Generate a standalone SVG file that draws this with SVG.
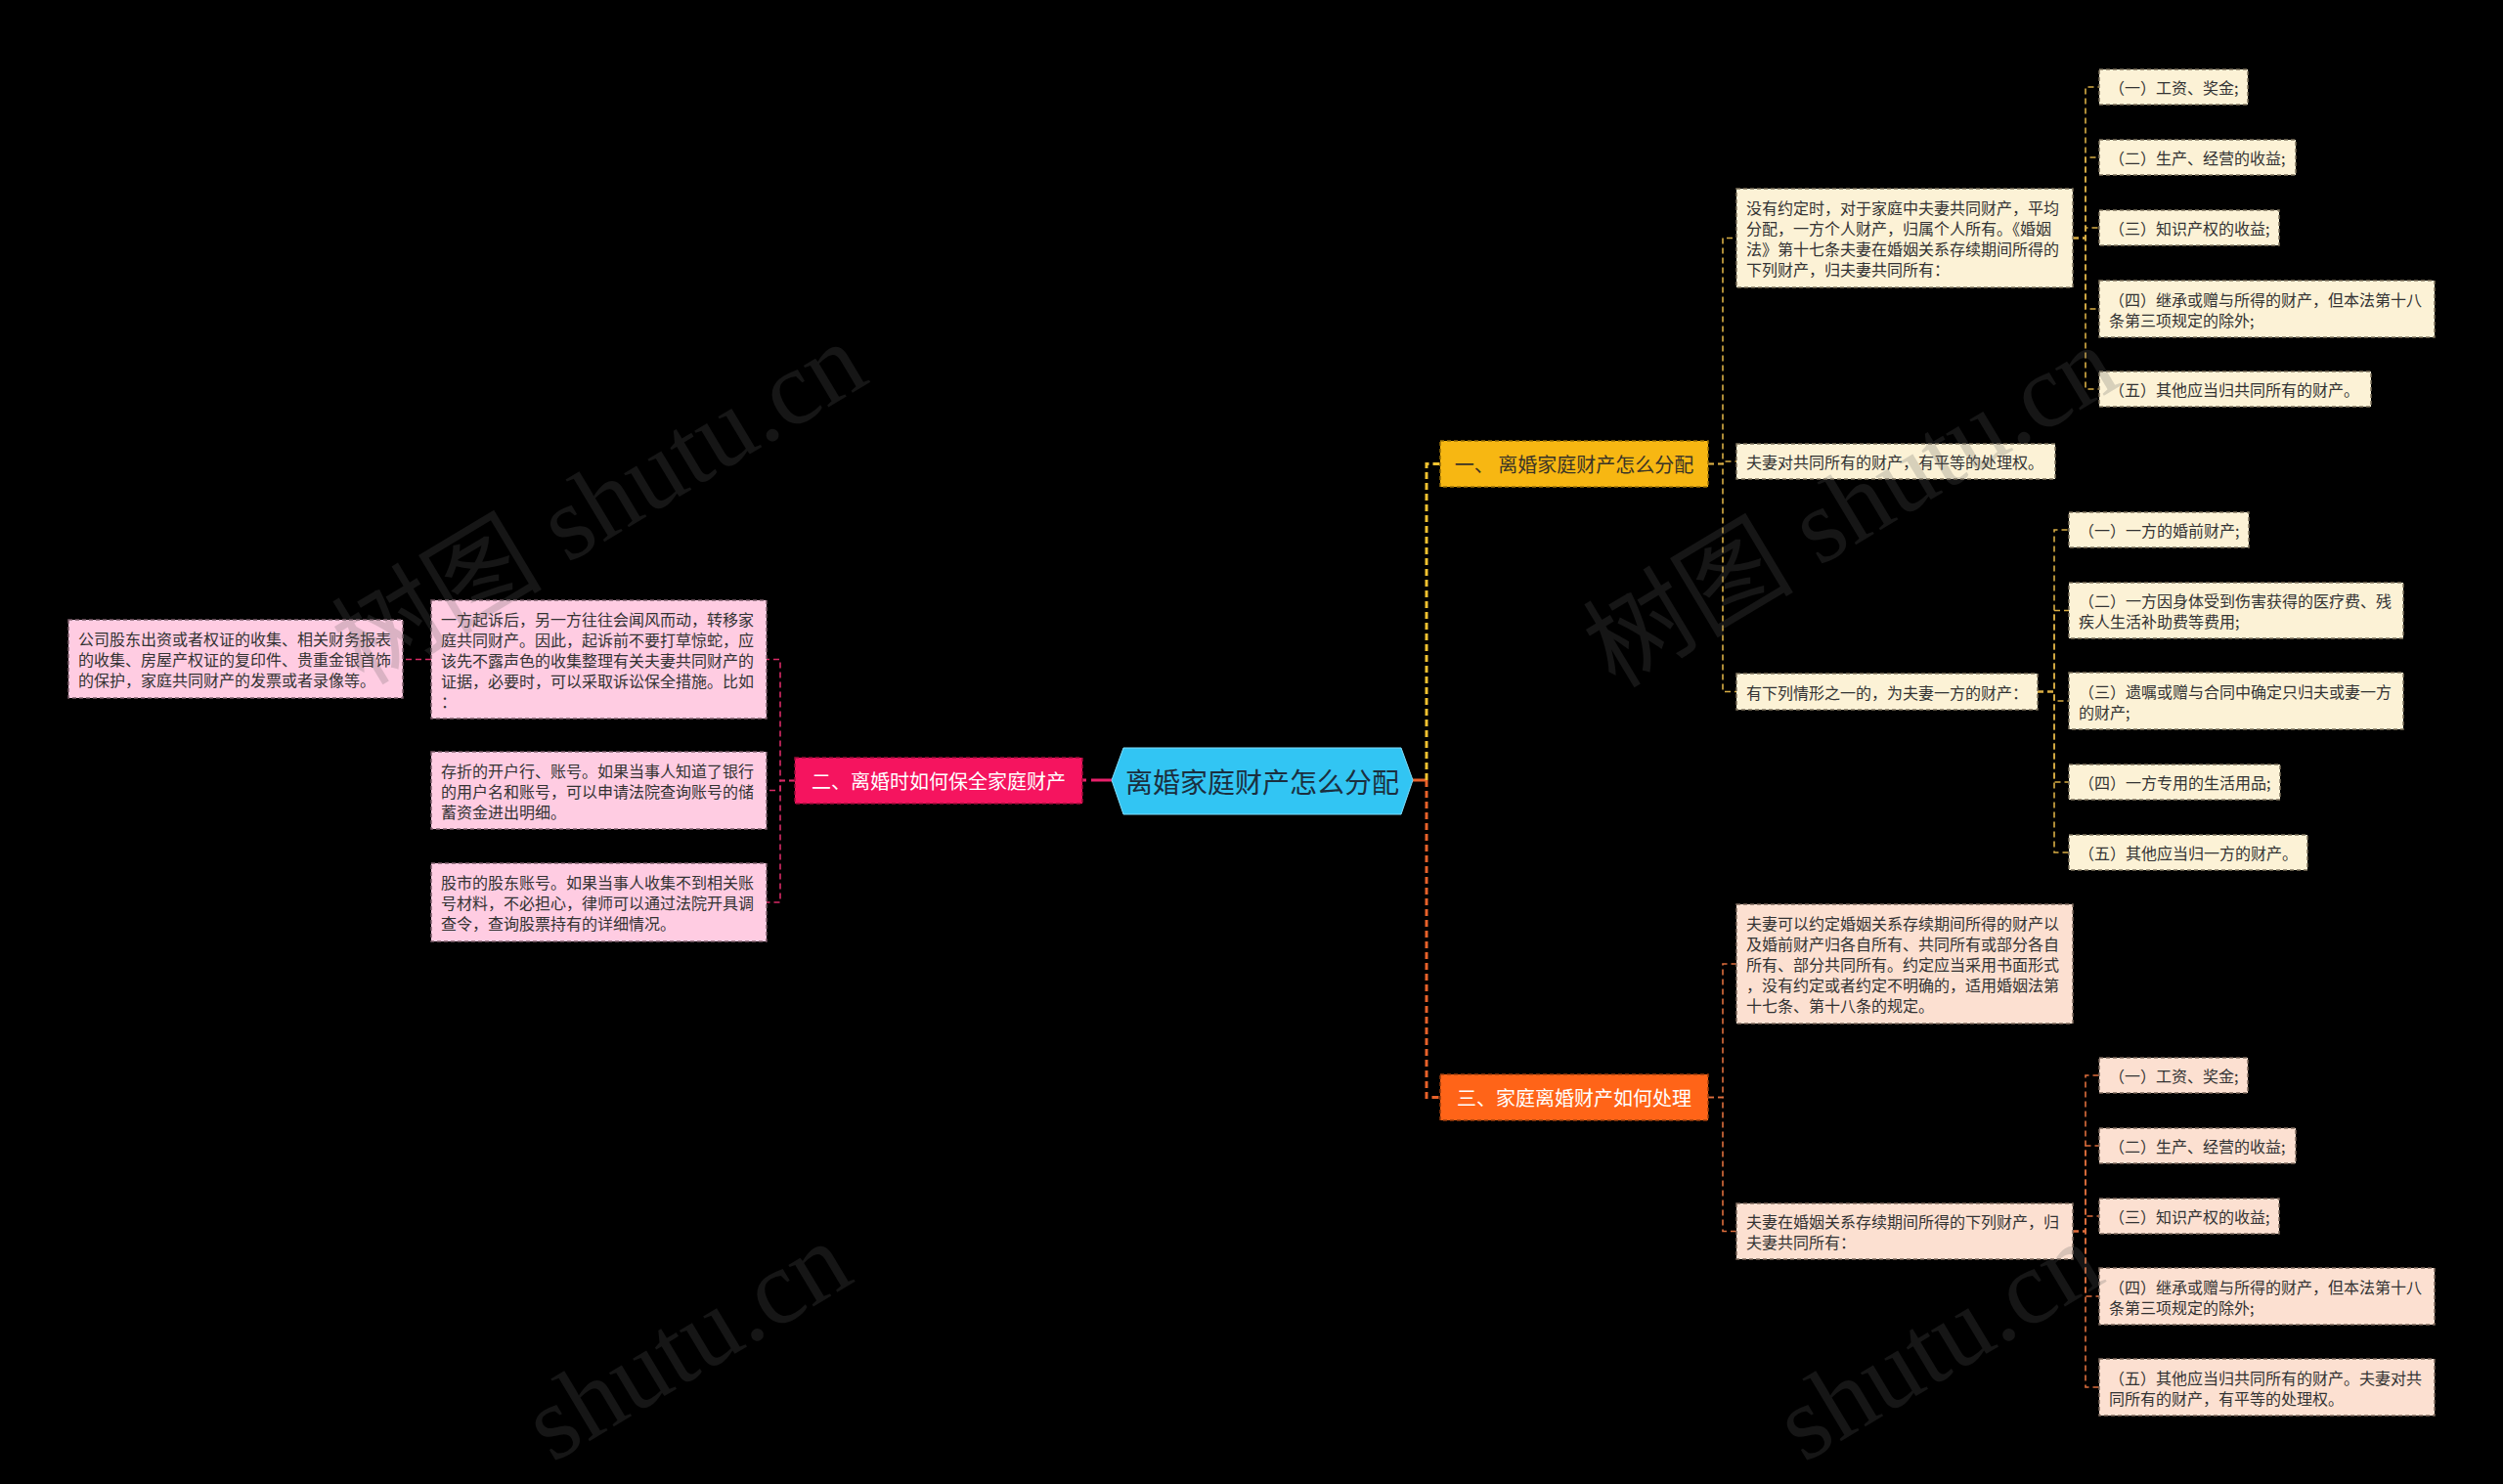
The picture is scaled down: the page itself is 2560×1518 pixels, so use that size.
<svg xmlns="http://www.w3.org/2000/svg" width="2560" height="1518" viewBox="0 0 2560 1518">
<style>
.bg{fill:#000}
.t{font-family:"Noto Sans CJK SC","Noto Sans",sans-serif;font-size:16px;fill:#333;dominant-baseline:central}
.l1{font-family:"Noto Sans CJK SC","Noto Sans",sans-serif;font-size:20px;dominant-baseline:central;text-anchor:middle}
.cream{fill:#FCF2D6;stroke:#7d735d;stroke-width:1.5;stroke-dasharray:4 3}
.peach{fill:#FCE0D1;stroke:#7d6a5d;stroke-width:1.5;stroke-dasharray:4 3}
.pink{fill:#FFCCE2;stroke:#7d5f6c;stroke-width:1.5;stroke-dasharray:4 3}
.gold{fill:none;stroke:#D9AE45;stroke-width:1.6;stroke-dasharray:6 4}
.orng{fill:none;stroke:#DE6E3C;stroke-width:1.6;stroke-dasharray:6 4}
.pnk{fill:none;stroke:#D82A66;stroke-width:1.6;stroke-dasharray:6 4}
.wm{font-family:"Liberation Serif","Noto Sans CJK SC",serif;font-size:108px;fill:#606060;fill-opacity:0.23}
</style>
<rect class="bg" x="0" y="0" width="2560" height="1518"/>

<g id="connectors">
  <path d="M1445,798 H1459" fill="none" stroke="#E8622A" stroke-width="3"/>
  <path d="M1459,798 V474.5 H1473" fill="none" stroke="#F2C230" stroke-width="3" stroke-dasharray="7 4"/>
  <path d="M1459,798 V1122.5 H1473" fill="none" stroke="#E8622A" stroke-width="3" stroke-dasharray="7 4"/>
  <path d="M1137,798 H1107" fill="none" stroke="#E8206A" stroke-width="3" stroke-dasharray="21 5 4 10"/>
  <path class="gold" d="M1747,474.5 H1762 V243.5 H1776"/>
  <path class="gold" d="M1747,474.5 H1762 V472 H1776"/>
  <path class="gold" d="M1747,474.5 H1762 V707.5 H1776"/>
  <path class="gold" d="M2120,243.5 H2133 V89 H2147"/>
  <path class="gold" d="M2120,243.5 H2133 V161 H2147"/>
  <path class="gold" d="M2120,243.5 H2133 V233 H2147"/>
  <path class="gold" d="M2120,243.5 H2133 V316 H2147"/>
  <path class="gold" d="M2120,243.5 H2133 V398 H2147"/>
  <path class="gold" d="M2084,707.5 H2101 V542 H2116"/>
  <path class="gold" d="M2084,707.5 H2101 V624.5 H2116"/>
  <path class="gold" d="M2084,707.5 H2101 V717 H2116"/>
  <path class="gold" d="M2084,707.5 H2101 V800 H2116"/>
  <path class="gold" d="M2084,707.5 H2101 V872 H2116"/>
  <path class="orng" d="M1747,1122.5 H1762 V986 H1776"/>
  <path class="orng" d="M1747,1122.5 H1762 V1259.5 H1776"/>
  <path class="orng" d="M2120,1259.5 H2133 V1100 H2147"/>
  <path class="orng" d="M2120,1259.5 H2133 V1172 H2147"/>
  <path class="orng" d="M2120,1259.5 H2133 V1244 H2147"/>
  <path class="orng" d="M2120,1259.5 H2133 V1326 H2147"/>
  <path class="orng" d="M2120,1259.5 H2133 V1419 H2147"/>
  <path class="pnk" d="M813,798.5 H798 V674.5 H784"/>
  <path class="pnk" d="M813,798.5 H798 V808.5 H784"/>
  <path class="pnk" d="M813,798.5 H798 V923 H784"/>
  <path class="pnk" d="M441,674.5 H412"/>
</g>

<g id="root">
  <polygon points="1137,798 1149,765 1433,765 1445,798 1433,833 1149,833" fill="#32C5F3" stroke="#7FDDFB" stroke-width="1"/>
  <text x="1291" y="799" style="font-family:'Noto Sans CJK SC','Noto Sans',sans-serif;font-size:28px;fill:#1b2f3f;dominant-baseline:central;text-anchor:middle">离婚家庭财产怎么分配</text>
</g>

<g id="n1">
  <rect x="1473" y="451" width="274" height="47" fill="#F7B712" stroke="#9a7208" stroke-width="1.5" stroke-dasharray="4 3"/>
  <text class="l1" x="1610" y="474.5" fill="#3a3426">一、 离婚家庭财产怎么分配</text>
</g>
<g id="n2">
  <rect x="813" y="775" width="294" height="47" fill="#F5145F" stroke="#9a0c3a" stroke-width="1.5" stroke-dasharray="4 3"/>
  <text class="l1" x="960" y="798.5" fill="#ffffff">二、离婚时如何保全家庭财产</text>
</g>
<g id="n3">
  <rect x="1473" y="1099" width="274" height="47" fill="#FF6418" stroke="#9a3c0c" stroke-width="1.5" stroke-dasharray="4 3"/>
  <text class="l1" x="1610" y="1122.5" fill="#ffffff">三、家庭离婚财产如何处理</text>
</g>

<g id="n1a">
  <rect class="cream" x="1776" y="193" width="344" height="101"/>
  <text class="t"><tspan x="1786" y="212">没有约定时，对于家庭中夫妻共同财产，平均</tspan><tspan x="1786" y="233">分配，一方个人财产，归属个人所有。《婚姻</tspan><tspan x="1786" y="254">法》第十七条夫妻在婚姻关系存续期间所得的</tspan><tspan x="1786" y="275">下列财产，归夫妻共同所有：</tspan></text>
</g>
<g id="n1a1"><rect class="cream" x="2147" y="71" width="152" height="36"/><text class="t" x="2157" y="89">（一）工资、奖金;</text></g>
<g id="n1a2"><rect class="cream" x="2147" y="143" width="201" height="36"/><text class="t" x="2157" y="161">（二）生产、经营的收益;</text></g>
<g id="n1a3"><rect class="cream" x="2147" y="215" width="184" height="36"/><text class="t" x="2157" y="233">（三）知识产权的收益;</text></g>
<g id="n1a4"><rect class="cream" x="2147" y="287" width="343" height="58"/><text class="t"><tspan x="2157" y="305.5">（四）继承或赠与所得的财产，但本法第十八</tspan><tspan x="2157" y="326.5">条第三项规定的除外;</tspan></text></g>
<g id="n1a5"><rect class="cream" x="2147" y="380" width="278" height="36"/><text class="t" x="2157" y="398">（五）其他应当归共同所有的财产。</text></g>

<g id="n1b"><rect class="cream" x="1776" y="454" width="326" height="36"/><text class="t" x="1786" y="472">夫妻对共同所有的财产，有平等的处理权。</text></g>

<g id="n1c"><rect class="cream" x="1776" y="689" width="308" height="37"/><text class="t" x="1786" y="707.5">有下列情形之一的，为夫妻一方的财产：</text></g>
<g id="n1c1"><rect class="cream" x="2116" y="524" width="184" height="36"/><text class="t" x="2126" y="542">（一）一方的婚前财产;</text></g>
<g id="n1c2"><rect class="cream" x="2116" y="596" width="342" height="57"/><text class="t"><tspan x="2126" y="614">（二）一方因身体受到伤害获得的医疗费、残</tspan><tspan x="2126" y="635">疾人生活补助费等费用;</tspan></text></g>
<g id="n1c3"><rect class="cream" x="2116" y="688" width="342" height="58"/><text class="t"><tspan x="2126" y="706.5">（三）遗嘱或赠与合同中确定只归夫或妻一方</tspan><tspan x="2126" y="727.5">的财产;</tspan></text></g>
<g id="n1c4"><rect class="cream" x="2116" y="782" width="216" height="36"/><text class="t" x="2126" y="800">（四）一方专用的生活用品;</text></g>
<g id="n1c5"><rect class="cream" x="2116" y="854" width="244" height="36"/><text class="t" x="2126" y="872">（五）其他应当归一方的财产。</text></g>

<g id="n3d">
  <rect class="peach" x="1776" y="925" width="344" height="122"/>
  <text class="t"><tspan x="1786" y="944">夫妻可以约定婚姻关系存续期间所得的财产以</tspan><tspan x="1786" y="965">及婚前财产归各自所有、共同所有或部分各自</tspan><tspan x="1786" y="986">所有、部分共同所有。约定应当采用书面形式</tspan><tspan x="1786" y="1007">，没有约定或者约定不明确的，适用婚姻法第</tspan><tspan x="1786" y="1028">十七条、第十八条的规定。</tspan></text>
</g>
<g id="n3e">
  <rect class="peach" x="1776" y="1231" width="344" height="57"/>
  <text class="t"><tspan x="1786" y="1249">夫妻在婚姻关系存续期间所得的下列财产，归</tspan><tspan x="1786" y="1270">夫妻共同所有：</tspan></text>
</g>
<g id="n3e1"><rect class="peach" x="2147" y="1082" width="152" height="36"/><text class="t" x="2157" y="1100">（一）工资、奖金;</text></g>
<g id="n3e2"><rect class="peach" x="2147" y="1154" width="201" height="36"/><text class="t" x="2157" y="1172">（二）生产、经营的收益;</text></g>
<g id="n3e3"><rect class="peach" x="2147" y="1226" width="184" height="36"/><text class="t" x="2157" y="1244">（三）知识产权的收益;</text></g>
<g id="n3e4"><rect class="peach" x="2147" y="1297" width="343" height="58"/><text class="t"><tspan x="2157" y="1315.5">（四）继承或赠与所得的财产，但本法第十八</tspan><tspan x="2157" y="1336.5">条第三项规定的除外;</tspan></text></g>
<g id="n3e5"><rect class="peach" x="2147" y="1390" width="343" height="58"/><text class="t"><tspan x="2157" y="1408.5">（五）其他应当归共同所有的财产。夫妻对共</tspan><tspan x="2157" y="1429.5">同所有的财产，有平等的处理权。</tspan></text></g>

<g id="n2f">
  <rect class="pink" x="441" y="614" width="343" height="121"/>
  <text class="t"><tspan x="451" y="632.5">一方起诉后，另一方往往会闻风而动，转移家</tspan><tspan x="451" y="653.5">庭共同财产。因此，起诉前不要打草惊蛇，应</tspan><tspan x="451" y="674.5">该先不露声色的收集整理有关夫妻共同财产的</tspan><tspan x="451" y="695.5">证据，必要时，可以采取诉讼保全措施。比如</tspan><tspan x="451" y="716.5">：</tspan></text>
</g>
<g id="n2f1">
  <rect class="pink" x="70" y="634" width="342" height="80"/>
  <text class="t"><tspan x="80" y="653">公司股东出资或者权证的收集、相关财务报表</tspan><tspan x="80" y="674">的收集、房屋产权证的复印件、贵重金银首饰</tspan><tspan x="80" y="695">的保护，家庭共同财产的发票或者录像等。</tspan></text>
</g>
<g id="n2g">
  <rect class="pink" x="441" y="769" width="343" height="79"/>
  <text class="t"><tspan x="451" y="787.5">存折的开户行、账号。如果当事人知道了银行</tspan><tspan x="451" y="808.5">的用户名和账号，可以申请法院查询账号的储</tspan><tspan x="451" y="829.5">蓄资金进出明细。</tspan></text>
</g>
<g id="n2h">
  <rect class="pink" x="441" y="883" width="343" height="80"/>
  <text class="t"><tspan x="451" y="902">股市的股东账号。如果当事人收集不到相关账</tspan><tspan x="451" y="923">号材料，不必担心，律师可以通过法院开具调</tspan><tspan x="451" y="944">查令，查询股票持有的详细情况。</tspan></text>
</g>

<g id="watermark">
  <text class="wm" transform="translate(372,702) rotate(-31)">树图 shutu.cn</text>
  <text class="wm" transform="translate(1652,705) rotate(-31)">树图 shutu.cn</text>
  <text class="wm" transform="translate(565,1497) rotate(-31)">shutu.cn</text>
  <text class="wm" transform="translate(1845,1497) rotate(-31)">shutu.cn</text>
</g>
</svg>
